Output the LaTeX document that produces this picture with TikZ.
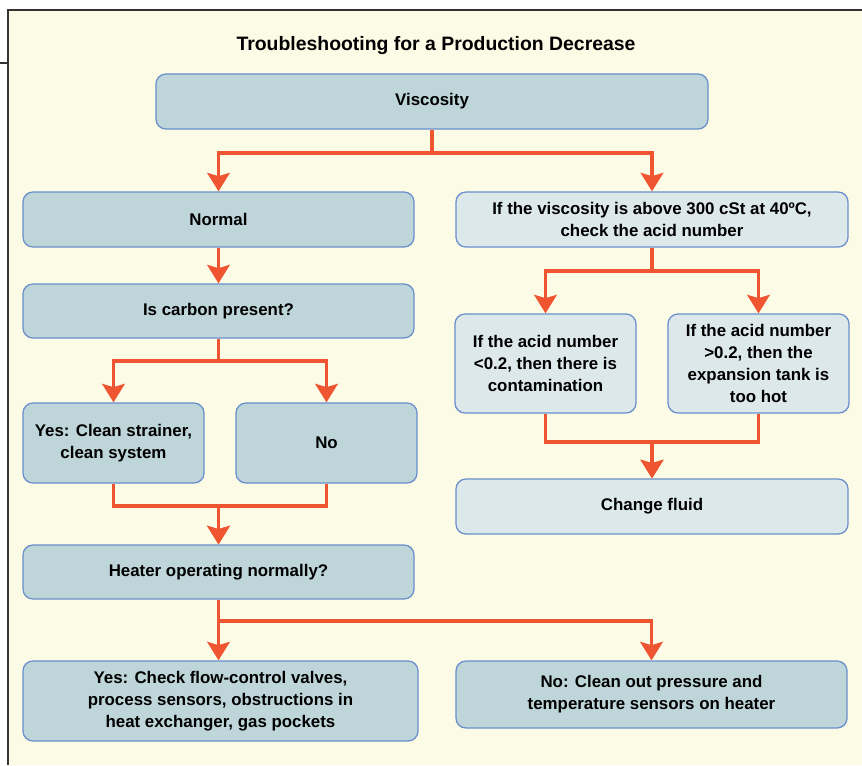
\documentclass[tikz,border=0pt]{standalone}
\usepackage{fontspec}
\setmainfont{Liberation Sans}
\usetikzlibrary{arrows.meta}

\definecolor{paper}{HTML}{FCFBE6}
\definecolor{boxfill}{HTML}{BED6DA}
\definecolor{boxlite}{HTML}{DCE8EA}
\definecolor{boxline}{HTML}{6A8FCB}
\definecolor{flowline}{HTML}{EE5530}

\begin{document}
\begin{tikzpicture}[x=0.025cm, y=-0.025cm,
		box/.style={draw=boxline, line width=0.9pt, fill=boxfill, rounded corners=0.25cm,
			align=center, inner sep=2pt, font=\bfseries\fontsize{12}{15.5}\selectfont},
		litebox/.style={box, fill=boxlite},
		flow/.style={draw=flowline, line width=2.8pt, -{Stealth[length=4.6mm, width=5.6mm, inset=0.8mm]}}]
		\useasboundingbox (0, 0) rectangle (862, 765);
		\fill [paper] (8, 10) rectangle (862, 765);
		\draw [line width=1.1pt, black!80] (8, 765) -- (8, 10) -- (862, 10);
		\draw [line width=0.8pt, black!80] (0, 63) -- (8, 63);

		\node (title) at (436, 46) {\bfseries\fontsize{13.8}{16}\selectfont Troubleshooting for a Production Decrease};

		% left branch
		\node [box, minimum width=13.8cm, minimum height=1.375cm] (visc) at (432, 101.5) {Viscosity};
		\node [box, minimum width=9.775cm, minimum height=1.375cm] (normal) at (218.5, 219.5) {Normal};
		\node [box, minimum width=9.775cm, minimum height=1.35cm] (carbon) at (218.5, 311) {Is carbon present?};
		\node [box, minimum width=4.525cm, minimum height=2cm] (yesc) at (113.5, 443) {Yes: Clean strainer,\\ clean system};
		\node [box, minimum width=4.525cm, minimum height=2cm] (noc) at (326.5, 443) {No};
		\node [box, minimum width=9.775cm, minimum height=1.35cm] (heater) at (218.5, 572) {Heater operating normally?};
		\node [box, minimum width=9.875cm, minimum height=2cm] (yesh) at (220.5, 701) {Yes: Check flow-control valves,\\ process sensors, obstructions in\\ heat exchanger, gas pockets};
		\node [box, minimum width=9.775cm, minimum height=1.675cm] (noh) at (651.5, 694.5) {No: Clean out pressure and\\ temperature sensors on heater};

		% right branch
		\node [litebox, minimum width=9.8cm, minimum height=1.375cm] (high) at (652, 219.5) {If the viscosity is above 300 cSt at 40ºC,\\ check the acid number};
		\node [litebox, minimum width=4.525cm, minimum height=2.475cm] (low) at (545.5, 363.5) {If the acid number\\ <0.2, then there is\\ contamination};
		\node [litebox, minimum width=4.525cm, minimum height=2.475cm] (hot) at (758.5, 363.5) {If the acid number\\ >0.2, then the\\ expansion tank is\\ too hot};
		\node [litebox, minimum width=9.8cm, minimum height=1.375cm] (change) at (652, 506.5) {Change fluid};

		% connectors
		\draw [flow] (visc.south) -- ++(0, 23) -| (normal.north);
		\draw [flow] (visc.south) -- ++(0, 23) -| (high.north);
		\draw [flow] (normal) -- (carbon);
		\draw [flow] (carbon.south) -- ++(0, 22) -| (yesc.north);
		\draw [flow] (carbon.south) -- ++(0, 22) -| (noc.north);
		\draw [flow] (yesc.south) -- ++(0, 22) -| (heater.north);
		\draw [flow] (noc.south) -- ++(0, 22) -| (heater.north);
		\draw [flow] (heater.south) -- (heater.south |- yesh.north);
		\draw [flow] (heater.south) -- ++(0, 21) -| (noh.north);
		\draw [flow] (high.south) -- ++(0, 23) -| (low.north);
		\draw [flow] (high.south) -- ++(0, 23) -| (hot.north);
		\draw [flow] (low.south) -- ++(0, 28) -| (change.north);
		\draw [flow] (hot.south) -- ++(0, 28) -| (change.north);
	\end{tikzpicture}
\end{document}
